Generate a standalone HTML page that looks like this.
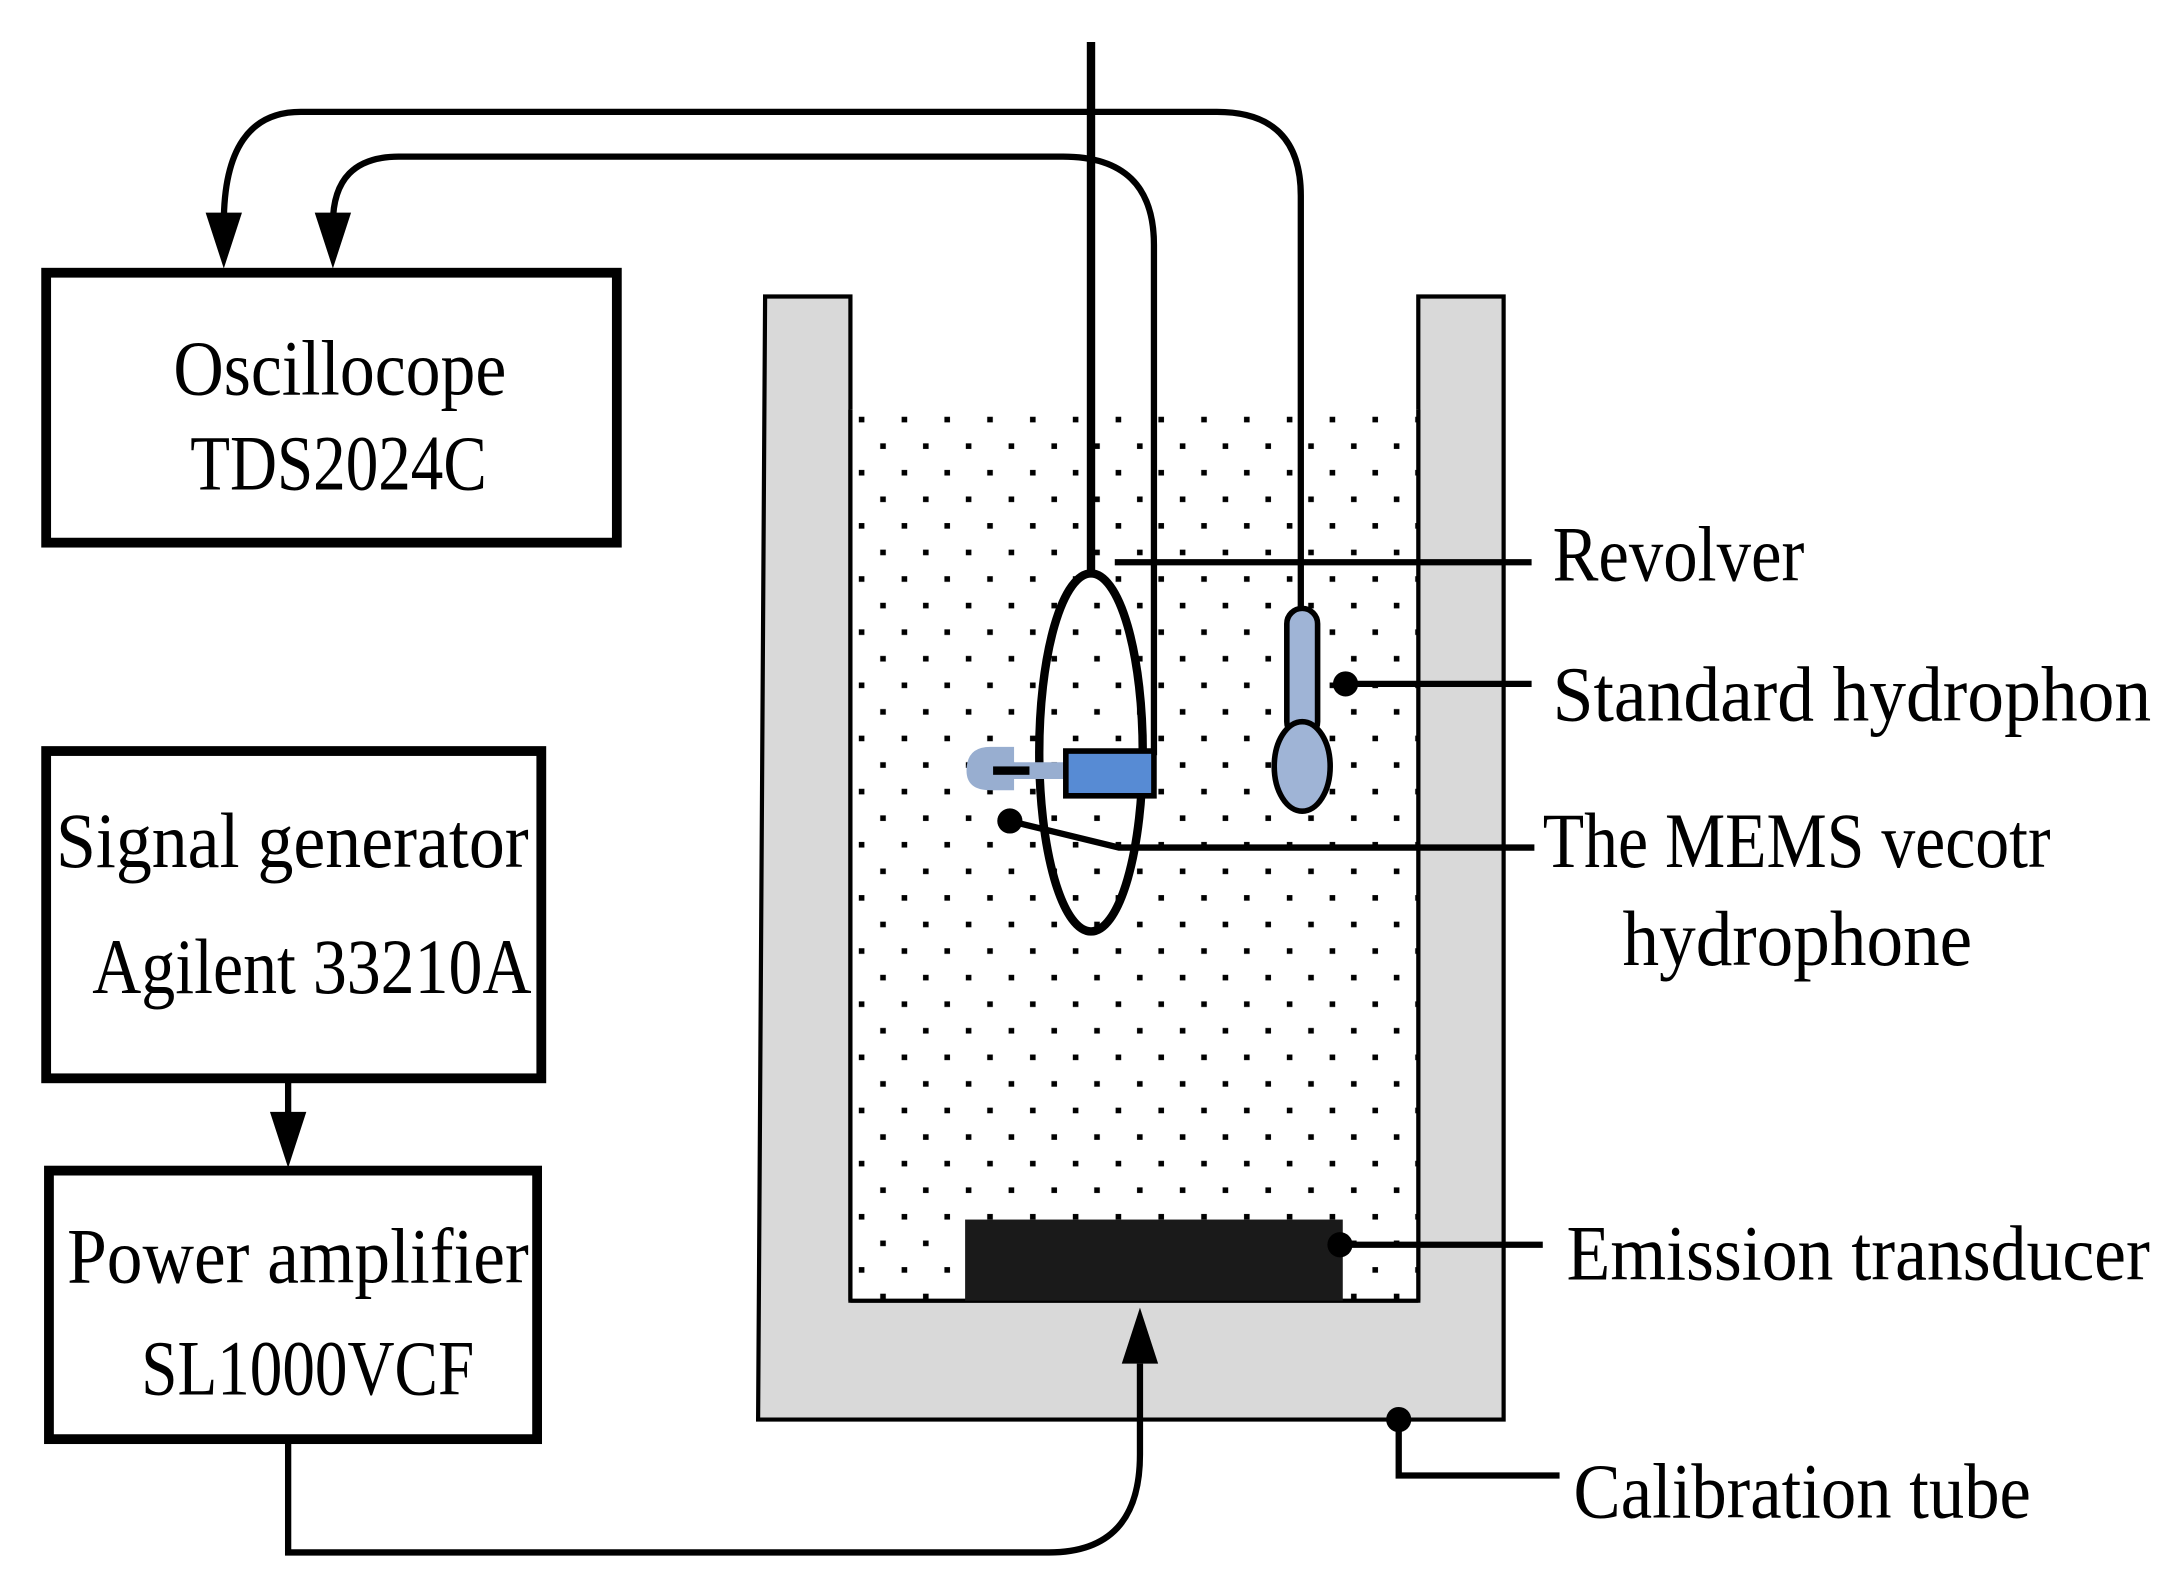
<!DOCTYPE html>
<html><head><meta charset="utf-8"><style>html,body{margin:0;padding:0;background:#fff}svg{display:block}</style></head>
<body>
<svg width="2182" height="1579" viewBox="0 0 1560 1129" preserveAspectRatio="none" xmlns="http://www.w3.org/2000/svg" font-family="'Liberation Serif', serif" font-size="56">
<defs>
<pattern id="dots" x="608" y="293" width="30.6" height="38" patternUnits="userSpaceOnUse">
<rect x="6" y="5" width="4" height="4" fill="#000"/>
<rect x="21.3" y="24" width="4" height="4" fill="#000"/>
</pattern>
</defs>
<path d="M547,212 L608,212 L608,930 L1014,930 L1014,212 L1075,212 L1075,1015 L542,1015 Z" fill="#d9d9d9" stroke="#000" stroke-width="3"/>
<rect x="608" y="293" width="406" height="637" fill="#fff"/>
<rect x="608" y="293" width="406" height="637" fill="url(#dots)"/>
<line x1="608" y1="293" x2="608" y2="930" stroke="#000" stroke-width="3"/>
<line x1="1014" y1="293" x2="1014" y2="930" stroke="#000" stroke-width="3"/>
<line x1="608" y1="930" x2="1014" y2="930" stroke="#000" stroke-width="3"/>
<rect x="690" y="872" width="270" height="58" fill="#1a1a1a"/>
<g fill="none" stroke="#000" stroke-width="7">
<rect x="33" y="195" width="408" height="193"/>
<rect x="33" y="537" width="354" height="234"/>
<rect x="35" y="837" width="349" height="192"/>
</g>
<g fill="none" stroke="#000" stroke-width="4.5">
<line x1="206" y1="771" x2="206" y2="800"/>
<path d="M206,1029 L206,1110 L750,1110 Q815,1110 815,1040 L815,975"/>
<path d="M238,160 Q238,112 285,112 L760,112 Q825,112 825,175 L825,540"/>
<path d="M160,160 Q160,80 215,80 L870,80 Q930,80 930,140 L930,435"/>
<line x1="797" y1="402" x2="1095" y2="402"/>
<line x1="962" y1="489" x2="1095" y2="489"/>
<path d="M722,587 L800,606 L1097,606"/>
<line x1="958" y1="890" x2="1103" y2="890"/>
<path d="M1000,1015 L1000,1055 L1115,1055"/>
</g>
<g fill="#000">
<polygon points="193,795 219,795 206,835"/>
<polygon points="802,975 828,975 815,935"/>
<polygon points="147,152 173,152 160,192"/>
<polygon points="225,152 251,152 238,192"/>
<circle cx="962" cy="489" r="9"/>
<circle cx="722" cy="587" r="9"/>
<circle cx="958" cy="890" r="9"/>
<circle cx="1000" cy="1015" r="9"/>
</g>
<line x1="780" y1="30" x2="780" y2="412" stroke="#000" stroke-width="6"/>
<ellipse cx="780" cy="538" rx="37" ry="128" fill="none" stroke="#000" stroke-width="6"/>
<rect x="920" y="435" width="22" height="92" rx="11" fill="#9fb4d6" stroke="#000" stroke-width="4"/>
<ellipse cx="931" cy="548" rx="20" ry="32" fill="#9fb4d6" stroke="#000" stroke-width="4"/>
<path d="M762,545 L725,545 L725,534 L708,534 Q691,534 691,551 Q691,565 708,565 L725,565 L725,557 L762,557 Z" fill="#98aed0"/>
<rect x="710" y="548" width="26" height="6" fill="#000"/>
<rect x="762" y="537" width="63" height="32" fill="#578bd4" stroke="#000" stroke-width="4"/>
<g fill="#000">
<text x="124" y="282" textLength="238" lengthAdjust="spacingAndGlyphs">Oscillocope</text>
<text x="136" y="350" textLength="212" lengthAdjust="spacingAndGlyphs">TDS2024C</text>
<text x="40" y="620" textLength="338" lengthAdjust="spacingAndGlyphs">Signal generator</text>
<text x="66" y="710" textLength="314" lengthAdjust="spacingAndGlyphs">Agilent 33210A</text>
<text x="48" y="917" textLength="330" lengthAdjust="spacingAndGlyphs">Power amplifier</text>
<text x="101" y="997" textLength="238" lengthAdjust="spacingAndGlyphs">SL1000VCF</text>
<text x="1110" y="415" textLength="180" lengthAdjust="spacingAndGlyphs">Revolver</text>
<text x="1110" y="515" textLength="428" lengthAdjust="spacingAndGlyphs">Standard hydrophon</text>
<text x="1103" y="620" textLength="363" lengthAdjust="spacingAndGlyphs">The MEMS vecotr</text>
<text x="1160" y="690" textLength="250" lengthAdjust="spacingAndGlyphs">hydrophone</text>
<text x="1120" y="915" textLength="417" lengthAdjust="spacingAndGlyphs">Emission transducer</text>
<text x="1125" y="1085" textLength="327" lengthAdjust="spacingAndGlyphs">Calibration tube</text>
</g>
</svg>
</body></html>
